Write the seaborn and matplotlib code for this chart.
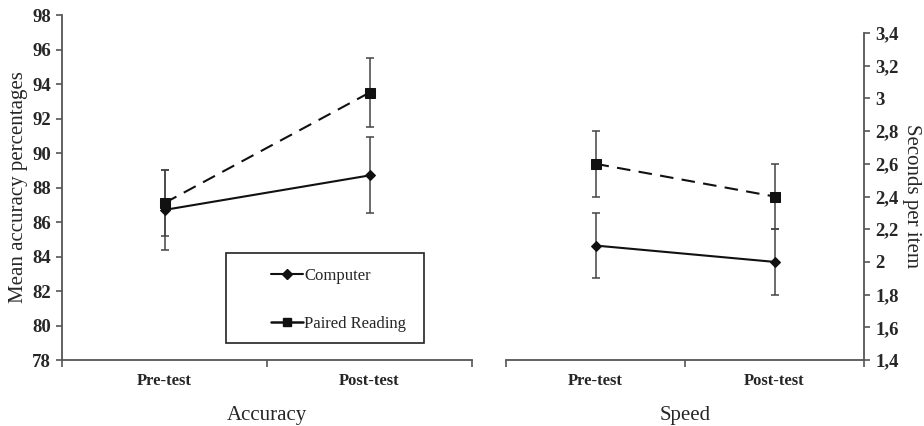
import numpy as np
import pandas as pd
import matplotlib
matplotlib.use("Agg")
import matplotlib.pyplot as plt
from matplotlib.lines import Line2D
from matplotlib.patches import Rectangle
from matplotlib.ticker import FixedLocator
import seaborn as sns

# ---- data -------------------------------------------------------------
phases = ["Pre-test", "Post-test"]
groups = ["Computer", "Paired Reading"]

acc_computer = [86.7, 88.7]
acc_computer_err = [2.3, 2.2]
acc_paired = [87.1, 93.5]
acc_paired_err = [1.9, 2.0]

speed_computer = [2.1, 2.0]
speed_computer_err = [0.2, 0.2]
speed_paired = [2.6, 2.4]
speed_paired_err = [0.2, 0.2]

acc_ticks = [78, 80, 82, 84, 86, 88, 90, 92, 94, 96, 98]
speed_ticks = [1.4, 1.6, 1.8, 2.0, 2.2, 2.4, 2.6, 2.8, 3.0, 3.2, 3.4]
speed_tick_labels = ["1,4", "1,6", "1,8", "2", "2,2", "2,4", "2,6", "2,8", "3", "3,2", "3,4"]

# ---- style ------------------------------------------------------------
sns.set_theme(style="white")
plt.rcParams["font.family"] = ["Liberation Serif", "DejaVu Serif"]

SPINE = "#555555"
INK = "#111111"
markers = {"Computer": "D", "Paired Reading": "s"}
marker_sizes = {"Computer": 5.5, "Paired Reading": 6.5}
dashes = {"Computer": "", "Paired Reading": (6.5, 4)}


def long_frame(computer, computer_err, paired, paired_err):
    rows = []
    for g, vals, errs in [("Computer", computer, computer_err),
                          ("Paired Reading", paired, paired_err)]:
        for i, (v, e) in enumerate(zip(vals, errs)):
            rows.append({"pos": i, "phase": phases[i], "group": g,
                         "value": v, "err": e})
    return pd.DataFrame(rows)


def draw_panel(ax, df):
    for g in groups:
        sub = df[df["group"] == g]
        ax.errorbar(sub["pos"], sub["value"], yerr=sub["err"], fmt="none",
                    ecolor="#444444", elinewidth=1.1, capsize=3,
                    capthick=1.1, zorder=2)
    sns.lineplot(data=df, x="pos", y="value", style="group",
                 style_order=groups, markers=markers, dashes=dashes,
                 color=INK, linewidth=1.5, markersize=6,
                 markeredgecolor=INK, legend=False, ax=ax, zorder=3)
    for line, g in zip(ax.lines[-2:], groups):
        line.set_markersize(marker_sizes[g])

    ax.set_xlim(-0.5, 1.5)
    ax.xaxis.set_major_locator(FixedLocator([0, 1]))
    ax.set_xticklabels(phases, fontsize=12, fontweight="bold")
    ax.xaxis.set_minor_locator(FixedLocator([-0.5, 0.5, 1.5]))
    ax.tick_params(axis="x", which="major", length=0, pad=9.5)
    ax.tick_params(axis="x", which="minor", bottom=True, length=5,
                   width=1.2, color=SPINE, direction="out")
    for s in ax.spines.values():
        s.set_color(SPINE)
        s.set_linewidth(1.3)
    ax.set_ylabel("")


fig = plt.figure(figsize=(9.24, 4.26), dpi=100)
ax1 = fig.add_axes([62 / 924, 1 - 360 / 426, 410 / 924, 345 / 426])
ax2 = fig.add_axes([506 / 924, 1 - 360 / 426, 358 / 924, 327 / 426])

# ---- accuracy panel ---------------------------------------------------
acc_df = long_frame(acc_computer, acc_computer_err, acc_paired, acc_paired_err)
draw_panel(ax1, acc_df)
ax1.set_ylim(acc_ticks[0], acc_ticks[-1])
ax1.set_yticks(acc_ticks)
ax1.set_yticklabels([str(t) for t in acc_ticks], fontsize=13.5, fontweight="bold")
ax1.tick_params(axis="y", left=True, length=4, width=1.2, color=SPINE,
                direction="out", pad=4)
ax1.spines["top"].set_visible(False)
ax1.spines["right"].set_visible(False)
ax1.set_xlabel("Accuracy", fontsize=15, labelpad=12)
ax1.set_ylabel("Mean accuracy percentages", fontsize=15, labelpad=3)

# legend: framed box with the entries set in from its left edge
box = Rectangle((226 / 924, 1 - 343 / 426), 198 / 924, 90 / 426,
                transform=fig.transFigure, facecolor="white",
                edgecolor="#222222", linewidth=1.2, zorder=4)
fig.add_artist(box)
handles = [
    Line2D([], [], color=INK, lw=1.5, marker="D", markersize=5,
           label="Computer"),
    Line2D([], [], color=INK, lw=1.8, marker="s", markersize=6,
           label="Paired Reading"),
]
leg = fig.legend(handles=handles, loc="upper left",
                 bbox_to_anchor=(271 / 924, 1 - 268 / 426),
                 bbox_transform=fig.transFigure,
                 fontsize=12, frameon=False, handlelength=1.9,
                 handletextpad=0.1, labelspacing=1.9, borderpad=0,
                 borderaxespad=0)
leg.set_zorder(5)

# ---- speed panel ------------------------------------------------------
speed_df = long_frame(speed_computer, speed_computer_err,
                      speed_paired, speed_paired_err)
draw_panel(ax2, speed_df)
ax2.set_ylim(speed_ticks[0], speed_ticks[-1])
ax2.set_yticks(speed_ticks)
ax2.set_yticklabels(speed_tick_labels, fontsize=13.5, fontweight="bold")
ax2.yaxis.tick_right()
ax2.yaxis.set_label_position("right")
ax2.tick_params(axis="y", right=True, left=False, length=4, width=1.2,
                color=SPINE, direction="out", pad=4)
ax2.spines["top"].set_visible(False)
ax2.spines["left"].set_visible(False)
ax2.set_xlabel("Speed", fontsize=15, labelpad=12)
ax2.set_ylabel("Seconds per item", fontsize=15, rotation=-90, labelpad=16)

fig.savefig("out.png", dpi=100)
